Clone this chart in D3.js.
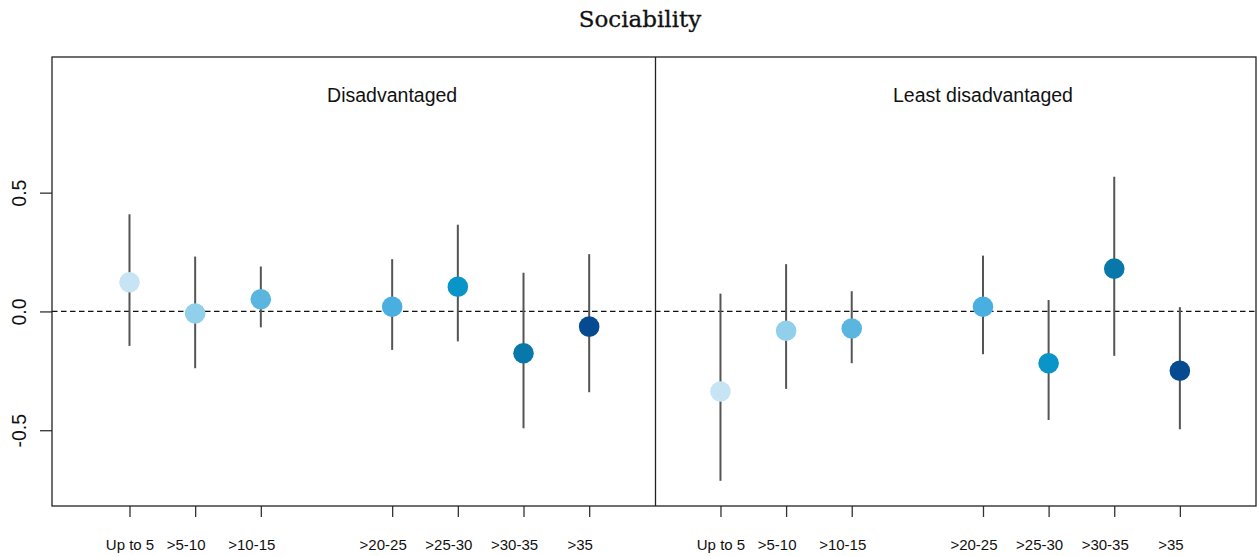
<!DOCTYPE html>
<html>
<head>
<meta charset="utf-8">
<script src="https://cdn.jsdelivr.net/npm/d3@7"></script>
<style>
  html, body { margin: 0; padding: 0; background: #fff; }
  svg { display: block; }
</style>
</head>
<body>
<div id="chart"></div>
<script>
// ---- data ----
const title = "Sociability";
const panels = ["Disadvantaged", "Least disadvantaged"];
const categories = ["Up to 5", ">5-10", ">10-15", ">20-25", ">25-30", ">30-35", ">35"];
const positions = [1, 2, 3, 5, 6, 7, 8];
const colors = ["#c6e4f3", "#92cfea", "#5ab6df", "#48afe0", "#0a95c8", "#0878ab", "#064a91"];

const disEst  = [0.123, -0.009, 0.051, 0.020, 0.104, -0.176, -0.064];
const disLow  = [-0.145, -0.239, -0.067, -0.162, -0.126, -0.492, -0.340];
const disHigh = [0.409, 0.231, 0.189, 0.220, 0.365, 0.163, 0.241];

const leastEst  = [-0.337, -0.081, -0.072, 0.020, -0.218, 0.180, -0.250];
const leastLow  = [-0.713, -0.326, -0.218, -0.180, -0.457, -0.187, -0.496];
const leastHigh = [0.075, 0.199, 0.085, 0.235, 0.048, 0.567, 0.018];

const yTicks = [-0.5, 0, 0.5];
const yTickLabels = ["-0.5", "0.0", "0.5"];

// ---- layout ----
const W = 1257, H = 556;
const box = { left: 52, right: 1256, top: 57, bottom: 506 };
const divider = 655.5;

const svg = d3.select("#chart").append("svg")
  .attr("width", W).attr("height", H)
  .style("font-family", "'Liberation Sans', Arial, sans-serif");

const y = d3.scaleLinear().domain([-0.819, 1.071]).range([box.bottom, box.top]);

const panelDefs = [
  { name: panels[0], est: disEst, low: disLow, high: disHigh,
    x: d3.scaleLinear().domain([-0.18, 9.01]).range([box.left, divider]) },
  { name: panels[1], est: leastEst, low: leastLow, high: leastHigh,
    x: d3.scaleLinear().domain([0.01, 9.16]).range([divider, box.right]) }
];

// title
svg.append("text")
  .attr("x", 640).attr("y", 27)
  .attr("text-anchor", "middle")
  .style("font-family", "'DejaVu Serif', serif")
  .style("font-size", "23px")
  .attr("fill", "#111")
  .attr("stroke", "#111").attr("stroke-width", 0.3)
  .text(title);

// zero line
svg.append("line")
  .attr("x1", box.left).attr("x2", box.right)
  .attr("y1", y(0)).attr("y2", y(0))
  .attr("stroke", "#111").attr("stroke-width", 1.3)
  .attr("stroke-dasharray", "5.5,3.5");

panelDefs.forEach((p, pi) => {
  const g = svg.append("g");
  const data = categories.map((c, i) => ({
    cat: c, pos: positions[i], est: p.est[i], low: p.low[i], high: p.high[i], color: colors[i]
  }));

  // whiskers
  g.selectAll("line.ci").data(data).join("line")
    .attr("class", "ci")
    .attr("x1", d => p.x(d.pos)).attr("x2", d => p.x(d.pos))
    .attr("y1", d => y(d.low)).attr("y2", d => y(d.high))
    .attr("stroke", "#555").attr("stroke-width", 2);

  // points
  g.selectAll("circle").data(data).join("circle")
    .attr("cx", d => p.x(d.pos)).attr("cy", d => y(d.est))
    .attr("r", 10.3)
    .attr("fill", d => d.color);

  // panel title
  g.append("text")
    .attr("x", p.x(5)).attr("y", 102)
    .attr("text-anchor", "middle")
    .style("font-size", "19.5px")
    .attr("fill", "#111")
    .text(p.name);

  // bottom axis
  const ax = svg.append("g")
    .attr("transform", `translate(0,${box.bottom})`)
    .call(d3.axisBottom(p.x)
      .tickValues(positions)
      .tickFormat((d, i) => categories[i])
      .tickSize(11)
      .tickPadding(22.5));
  ax.select(".domain").remove();
  ax.selectAll(".tick line").attr("stroke", "#333").attr("stroke-width", 1.3);
  ax.selectAll(".tick text")
    .style("font-size", "15px")
    .style("font-family", "'Liberation Sans', Arial, sans-serif")
    .attr("fill", "#111")
    .attr("dx", (d, i) => i === 0 ? 0 : -9.5);
});

// left axis
const ay = svg.append("g")
  .attr("transform", `translate(${box.left},0)`)
  .call(d3.axisLeft(y).tickValues(yTicks)
    .tickFormat((d, i) => yTickLabels[i])
    .tickSize(12).tickPadding(0));
ay.select(".domain").remove();
ay.selectAll(".tick line").attr("stroke", "#333").attr("stroke-width", 1.3);
ay.selectAll(".tick text")
  .attr("x", null).attr("dy", null)
  .attr("text-anchor", "middle")
  .attr("transform", "translate(-26.5,0) rotate(-90)")
  .style("font-size", "19.5px")
  .style("font-family", "'Liberation Sans', Arial, sans-serif")
  .attr("fill", "#111");

// box and divider
svg.append("rect")
  .attr("x", box.left).attr("y", box.top)
  .attr("width", box.right - box.left).attr("height", box.bottom - box.top)
  .attr("fill", "none").attr("stroke", "#222").attr("stroke-width", 1.3);
svg.append("line")
  .attr("x1", divider).attr("x2", divider)
  .attr("y1", box.top).attr("y2", box.bottom)
  .attr("stroke", "#222").attr("stroke-width", 1.3);
</script>
</body>
</html>
